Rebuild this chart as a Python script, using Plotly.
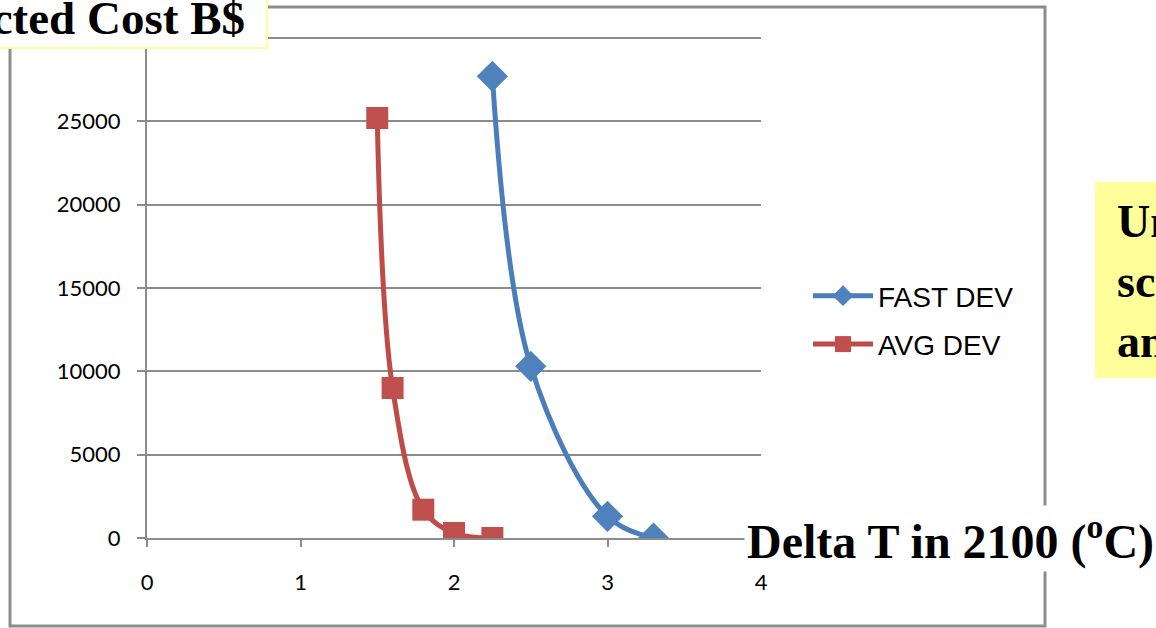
import plotly.graph_objects as go

# Warming in 2100 (deg C) versus projected cost (B$)
fast_dt = [2.25, 2.5, 3.0, 3.3]
fast_cost = [27700, 10300, 1300, 0]
avg_dt = [1.5, 1.6, 1.8, 2.0, 2.25]
avg_cost = [25200, 9000, 1700, 300, 0]

x_ticks = [0, 1, 2, 3, 4]
x_tick_labels = ["0", "1", "2", "3", "4"]
y_ticks = [0, 5000, 10000, 15000, 20000, 25000, 30000]
y_tick_labels = ["0", "5000", "10000", "15000", "20000", "25000", "30000"]

BLUE = "#4a7ebb"
RED = "#be4b48"
GRID = "#8c8c8c"
TICK_FONT = "Lato, sans-serif"
W, H = 1156, 628
L, R, T, B = 147, 395, 33, 90
Y_TOP = 30300

fig = go.Figure()
fig.add_trace(go.Scatter(
    x=fast_dt, y=fast_cost, name="FAST DEV", mode="lines+markers",
    line=dict(color=BLUE, width=5, shape="spline", smoothing=1),
    marker=dict(symbol="diamond", size=24, color="#4f81bd"),
    legendgroup="a",
))
fig.add_trace(go.Scatter(
    x=avg_dt, y=avg_cost, name="AVG DEV", mode="lines+markers",
    line=dict(color=RED, width=5, shape="spline", smoothing=1),
    marker=dict(symbol="square", size=22, color="#c0504d"),
    legendgroup="b",
))

pw = W - L - R
ph = H - T - B


def px_x(p):
    return (p - L) / pw


def px_y(p):
    return (H - B - p) / ph


shapes = [
    # chart frame
    dict(type="rect", xref="paper", yref="paper",
         x0=px_x(10), x1=px_x(1045), y0=px_y(626), y1=px_y(7),
         line=dict(color=GRID, width=3), fillcolor="rgba(0,0,0,0)", layer="below"),
    # title box, top left
    dict(type="rect", xref="paper", yref="paper",
         x0=px_x(-20), x1=px_x(267), y0=px_y(48), y1=px_y(-20),
         line=dict(color="#ffff99", width=2), fillcolor="white", layer="above"),
    # note box, right
    dict(type="rect", xref="paper", yref="paper",
         x0=px_x(1095), x1=px_x(1200), y0=px_y(378), y1=px_y(182),
         line=dict(width=0), fillcolor="#ffff99", layer="above"),
]

annotations = [
    dict(text="<b>Projected Cost B$</b>", xref="paper", yref="paper",
         x=px_x(247), y=px_y(18), xanchor="right", yanchor="middle",
         showarrow=False, font=dict(family="Liberation Serif", size=47, color="black")),
    dict(text="<b>Delta T in 2100 (<sup>o</sup>C)</b>", xref="paper", yref="paper",
         x=px_x(744), y=px_y(538), xanchor="left", yanchor="middle",
         showarrow=False, font=dict(family="Liberation Serif", size=48, color="black"),
         bgcolor="white", borderpad=2),
    dict(text="<b>Uncertain<br>science<br>and</b>", xref="paper", yref="paper",
         x=px_x(1115), y=px_y(281), xanchor="left", yanchor="middle", align="left",
         showarrow=False, font=dict(family="Liberation Serif", size=46, color="black")),
]

fig.update_layout(
    width=W, height=H,
    margin=dict(l=L, r=R, t=T, b=B, pad=0),
    paper_bgcolor="white", plot_bgcolor="white",
    showlegend=True,
    legend=dict(x=px_x(808), y=px_y(320), xanchor="left", yanchor="middle",
                font=dict(family="Liberation Sans", size=28, color="black"),
                tracegroupgap=9, itemwidth=60, bgcolor="rgba(0,0,0,0)"),
    shapes=shapes, annotations=annotations,
    xaxis=dict(range=[0, 4], tickvals=x_ticks, ticktext=x_tick_labels,
               showgrid=False, zeroline=False,
               showline=True, linecolor=GRID, linewidth=2,
               ticks="outside", ticklen=7, tickwidth=2, tickcolor=GRID,
               ticklabelstandoff=17,
               tickfont=dict(family=TICK_FONT, size=22, color="black")),
    yaxis=dict(range=[0, Y_TOP], tickvals=y_ticks, ticktext=y_tick_labels,
               showgrid=True, gridcolor=GRID,
               gridwidth=2, zeroline=False, showline=True, linecolor=GRID, linewidth=2,
               ticks="outside", ticklen=8, tickwidth=2, tickcolor=GRID,
               ticklabelstandoff=12,
               tickfont=dict(family=TICK_FONT, size=22, color="black")),
)

fig.write_html("out.html")
